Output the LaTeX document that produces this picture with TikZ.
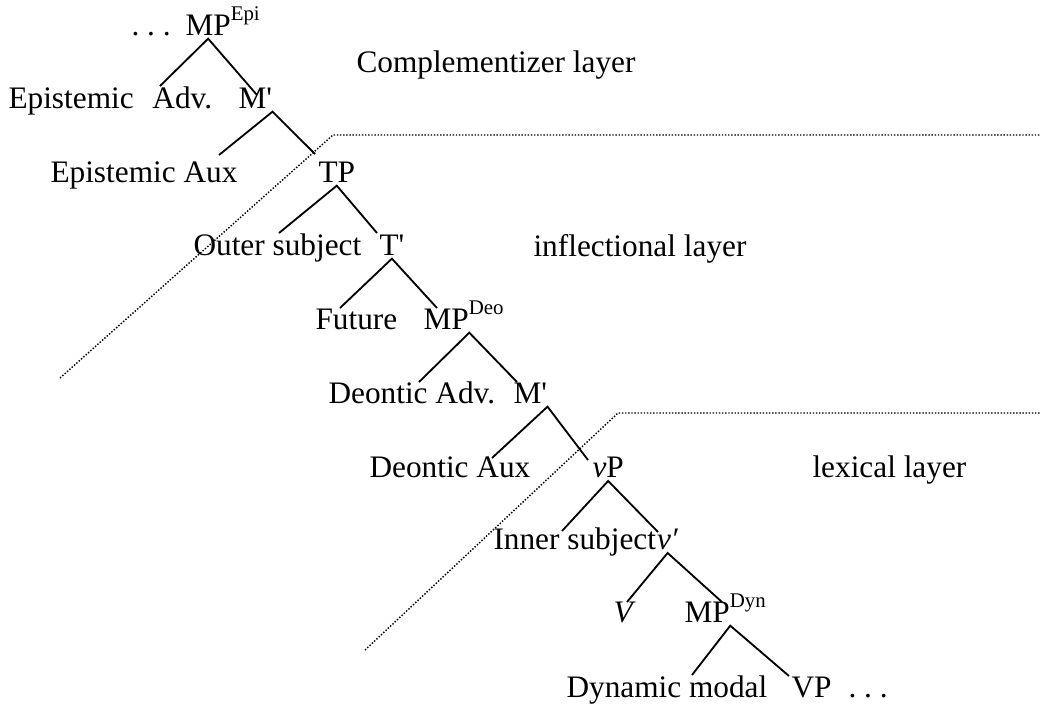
\documentclass[tikz,border=0pt]{standalone}
\usepackage{fontspec}
\setmainfont{Liberation Serif}
\newcommand{\supr}[1]{\rlap{\raisebox{5.5pt}{\fontsize{8}{9}\selectfont #1}}}
\tikzset{
	lbl/.style={anchor=base west, inner xsep=0pt, inner ysep=1.2pt, font=\fontsize{12}{14}\selectfont},
	branch/.style={line width=0.7pt},
	layerline/.style={line width=0.55pt, dash pattern=on 0.55pt off 0.65pt}
}
\begin{document}
\begin{tikzpicture}[x=0.3834pt,y=-0.3834pt]
		\useasboundingbox (0,0) rectangle (1042,707);

		%layer borders
		\draw[layerline] (60,378) -- (333,135) -- (1040,135);
		\draw[layerline] (365,650) -- (618,413) -- (1040,413);

		\node[lbl] (compLayer) at (356,72) {Complementizer layer};
		\node[lbl] (inflLayer) at (533,256) {inflectional layer};
		\node[lbl] (lexLayer) at (812,477) {lexical layer};

		%epistemic part
		\node[lbl] (dotsTop) at (131,35) {.\ .\ .};
		\node[lbl] (mpEpi) at (185,35) {MP\supr{Epi}};
		\node[lbl] (epiAdv) at (8,108) {Epistemic\hspace*{.6em}Adv.};
		\node[lbl] (mEpi) at (238,108) {M\textquotesingle};
		\node[lbl] (epiAux) at (50,182) {Epistemic Aux};
		\node[lbl] (tp) at (318,182) {TP};

		%tense part
		\node[lbl] (outerSubj) at (193,255) {Outer subject};
		\node[lbl] (tbar) at (379,255) {T\textquotesingle};
		\node[lbl] (future) at (315,329) {Future};
		\node[lbl] (mpDeo) at (423,329) {MP\supr{Deo}};

		%deontic part
		\node[lbl] (deoAdv) at (328,403) {Deontic Adv.};
		\node[lbl] (mDeo) at (513,403) {M\textquotesingle};
		\node[lbl] (deoAux) at (369,477) {Deontic Aux};
		\node[lbl] (vp) at (592,477) {\textit{v}P};

		%lexical part
		\node[lbl] (innerSubj) at (493,549) {Inner subject};
		\node[lbl] (vbar) at (innerSubj.base east) {\textit{v′}};
		\node[lbl] (vV) at (613,622) {\textit{V}};
		\node[lbl] (mpDyn) at (684,622) {MP\supr{Dyn}};
		\node[lbl] (dynModal) at (566,697) {Dynamic modal};
		\node[lbl] (vpLow) at (791,697) {VP};
		\node[lbl] (dotsLow) at (848,697) {.\ .\ .};

		%branch ends
		\coordinate (epiAdv-t) at (160,86);
		\coordinate (mEpi-t) at (257,95);
		\coordinate (epiAux-t) at (219,155);
		\coordinate (tp-t) at (315,154);
		\coordinate (outerSubj-t) at (279,233);
		\coordinate (tbar-t) at (377,233);
		\coordinate (future-t) at (340,308);
		\coordinate (mpDeo-t) at (437,308);
		\coordinate (deoAdv-t) at (419,382);
		\coordinate (mDeo-t) at (517,382);
		\coordinate (deoAux-t) at (492,458);
		\coordinate (vp-t) at (588,460);
		\coordinate (innerSubj-t) at (562,531);
		\coordinate (vbar-t) at (658,532);
		\coordinate (vV-t) at (627,602);
		\coordinate (mpDyn-t) at (722,602);
		\coordinate (dynModal-t) at (692,675);
		\coordinate (vpLow-t) at (789,676);

		\draw[branch] (epiAdv-t) -- (mpEpi.south) -- (mEpi-t);
		\draw[branch] (epiAux-t) -- (mEpi.south east) -- (tp-t);
		\draw[branch] (outerSubj-t) -- (tp.south) -- (tbar-t);
		\draw[branch] (future-t) -- (tbar.south) -- (mpDeo-t);
		\draw[branch] (deoAdv-t) -- (mpDeo.south east) -- (mDeo-t);
		\draw[branch] (deoAux-t) -- (mDeo.south east) -- (vp-t);
		\draw[branch] (innerSubj-t) -- (vp.south) -- (vbar-t);
		\draw[branch] (vV-t) -- (vbar.south) -- (mpDyn-t);
		\draw[branch] (dynModal-t) -- (mpDyn.south east) -- (vpLow-t);

	\end{tikzpicture}
\end{document}
